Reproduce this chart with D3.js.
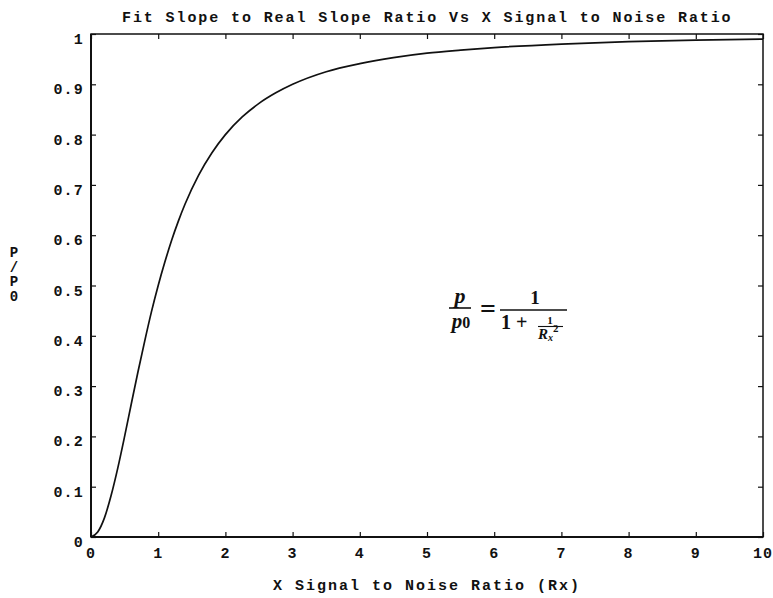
<!DOCTYPE html>
<html><head><meta charset="utf-8">
<script src="https://cdn.jsdelivr.net/npm/d3@7"></script>
<style>
body{margin:0;background:#fff;}
svg{display:block;}
.mono{font-family:"Liberation Mono","Courier New",monospace;font-weight:bold;fill:#111;}
.math{font-family:"Liberation Serif","Times New Roman",serif;fill:#111;}
</style></head>
<body>
<svg id="c" width="773" height="598"></svg>
<script>
// Data
const xValues = [0,0.1,0.2,0.3,0.4,0.5,0.6,0.7,0.8,0.9,1.0,1.1,1.2,1.3,1.4,1.6,1.8,2.0,2.25,2.5,2.75,3.0,3.5,4.0,4.5,5.0,5.5,6.0,7.0,8.0,9.0,10.0];
const yValues = [0,0.010,0.038,0.083,0.138,0.200,0.265,0.329,0.390,0.448,0.500,0.547,0.590,0.628,0.662,0.719,0.764,0.800,0.835,0.862,0.883,0.900,0.925,0.941,0.953,0.962,0.968,0.973,0.980,0.985,0.988,0.990];
const xTicks = [0,1,2,3,4,5,6,7,8,9,10];
const yTicks = [0,0.1,0.2,0.3,0.4,0.5,0.6,0.7,0.8,0.9,1];
const yTickLabels = ["0","0.1","0.2","0.3","0.4","0.5","0.6","0.7","0.8","0.9","1"];
const titleText = "Fit Slope to Real Slope Ratio Vs X Signal to Noise Ratio";
const xLabelText = "X Signal to Noise Ratio (Rx)";
const yLabelChars = ["P","/","P","0"];

const svg = d3.select("#c");
const L=91, R=763, T=34, B=537;
const x = d3.scaleLinear().domain([0,10]).range([L,R]);
const y = d3.scaleLinear().domain([0,1]).range([B,T]);

// frame
svg.append("rect").attr("x",L).attr("y",T).attr("width",R-L).attr("height",B-T)
  .attr("fill","none").attr("stroke","#111").attr("stroke-width",1.5);
svg.append("line").attr("x1",L).attr("x2",L).attr("y1",T).attr("y2",B).attr("stroke","#111").attr("stroke-width",2);
svg.append("line").attr("x1",L).attr("x2",R).attr("y1",B).attr("y2",B).attr("stroke","#111").attr("stroke-width",2);

// axes with inward ticks
const gx = svg.append("g").attr("transform",`translate(0,${B})`)
  .call(d3.axisTop(x).tickValues(xTicks).tickSize(5).tickFormat(""));
const gxt = svg.append("g").attr("transform",`translate(0,${T})`)
  .call(d3.axisBottom(x).tickValues(xTicks).tickSize(5).tickFormat(""));
const gy = svg.append("g").attr("transform",`translate(${L},0)`)
  .call(d3.axisRight(y).tickValues(yTicks).tickSize(5).tickFormat(""));
const gyr = svg.append("g").attr("transform",`translate(${R},0)`)
  .call(d3.axisLeft(y).tickValues(yTicks).tickSize(5).tickFormat(""));
[gx,gxt,gy,gyr].forEach(g=>{g.select(".domain").remove();g.selectAll("line").attr("stroke","#111").attr("stroke-width",1.2);});

// x tick labels
svg.append("g").selectAll("text").data(xTicks).join("text").attr("class","mono")
  .attr("x",d=>x(d)).attr("y",558).attr("text-anchor","middle")
  .attr("font-size",15).style("letter-spacing","1px").text(d=>String(d));

// y tick labels
svg.append("g").selectAll("text").data(yTicks).join("text").attr("class","mono")
  .attr("x",84).attr("y",d=>y(d)+10).attr("text-anchor","end")
  .attr("font-size",15).style("letter-spacing","1.2px").text((d,i)=>yTickLabels[i]);

// title
svg.append("text").attr("class","mono").attr("x",122).attr("y",22).attr("text-anchor","start")
  .attr("font-size",15).style("letter-spacing","1.9px").text(titleText);

// x label
svg.append("text").attr("class","mono").attr("x",273).attr("y",590).attr("text-anchor","start")
  .attr("font-size",15).style("letter-spacing","2px").text(xLabelText);

// y label stacked
svg.append("g").selectAll("text").data(yLabelChars).join("text").attr("class","mono")
  .attr("x",14).attr("y",(d,i)=>257+i*14.5).attr("text-anchor","middle")
  .attr("font-size",14).text(d=>d);

// curve
const line = d3.line().x((d,i)=>x(xValues[i])).y(d=>y(d)).curve(d3.curveMonotoneX);
svg.append("path").datum(yValues).attr("d",line).attr("fill","none")
  .attr("stroke","#111").attr("stroke-width",1.7);

// formula
const f = svg.append("g").attr("class","math");
f.append("text").attr("x",460).attr("y",303).attr("text-anchor","middle").attr("font-size",22)
  .attr("font-style","italic").attr("font-weight","bold").text("p");
f.append("line").attr("x1",449).attr("x2",471).attr("y1",308).attr("y2",308).attr("stroke","#111").attr("stroke-width",1.6);
f.append("text").attr("x",461).attr("y",328).attr("text-anchor","middle").attr("font-size",21)
  .attr("font-weight","bold").html('<tspan font-style="italic">p</tspan><tspan font-size="16">0</tspan>');
f.append("text").attr("x",488).attr("y",318).attr("text-anchor","middle").attr("font-size",28)
  .attr("font-weight","bold").text("=");
f.append("text").attr("x",535).attr("y",304).attr("text-anchor","middle").attr("font-size",19)
  .attr("font-weight","bold").text("1");
f.append("line").attr("x1",500).attr("x2",567).attr("y1",310).attr("y2",310).attr("stroke","#111").attr("stroke-width",1.6);
f.append("text").attr("x",501).attr("y",329).attr("font-size",20).attr("font-weight","bold").text("1 +");
f.append("text").attr("x",550).attr("y",324).attr("text-anchor","middle").attr("font-size",11)
  .attr("font-weight","bold").text("1");
f.append("line").attr("x1",538).attr("x2",563).attr("y1",326.5).attr("y2",326.5).attr("stroke","#111").attr("stroke-width",1.1);
f.append("text").attr("x",538).attr("y",339).attr("font-size",15).attr("font-weight","bold")
  .html('<tspan font-style="italic">R</tspan><tspan font-size="10" dy="2" font-style="italic">x</tspan><tspan font-size="11" dy="-9">2</tspan>');
</script>
</body></html>
